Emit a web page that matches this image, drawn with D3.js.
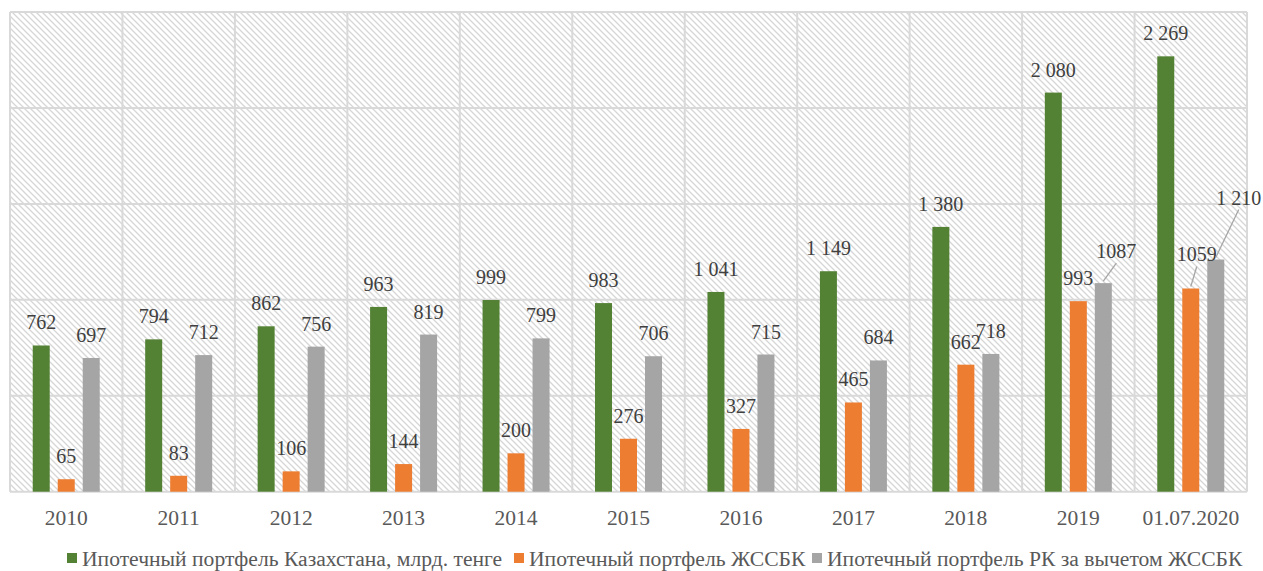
<!DOCTYPE html>
<html><head><meta charset="utf-8">
<script src="https://cdnjs.cloudflare.com/ajax/libs/d3/7.8.5/d3.min.js"></script>
<style>body{margin:0;background:#fff}svg{display:block}</style>
</head><body>
<script>
const categories = ["2010","2011","2012","2013","2014","2015","2016","2017","2018","2019","01.07.2020"];
const seriesNames = ["Ипотечный портфель Казахстана, млрд. тенге","Ипотечный портфель ЖССБК","Ипотечный портфель РК за вычетом ЖССБК"];
const kazakhstan = [762,794,862,963,999,983,1041,1149,1380,2080,2269];
const zhssbk = [65,83,106,144,200,276,327,465,662,993,1059];
const withoutZhssbk = [697,712,756,819,799,706,715,684,718,1087,1210];
const kazLabels = ["762","794","862","963","999","983","1 041","1 149","1 380","2 080","2 269"];
const zhLabels = ["65","83","106","144","200","276","327","465","662","993","1059"];
const woLabels = ["697","712","756","819","799","706","715","684","718","1087","1 210"];
const yTicks = [0,500,1000,1500,2000,2500];
const colors = ["#548235","#ed7d31","#a5a5a5"];

const W=1263,H=571;
const m={l:10,t:12,r:16,b:80};
const svg=d3.select("body").append("svg").attr("width",W).attr("height",H);
const defs=svg.append("defs");
const pat=defs.append("pattern").attr("id","hatch").attr("patternUnits","userSpaceOnUse").attr("width",6).attr("height",6);
pat.append("rect").attr("width",6).attr("height",6).attr("fill","#fff");
pat.append("path").attr("d","M-1,-1 L7,7 M-1,5 L1,7 M5,-1 L7,1").attr("stroke","#d6d6d6").attr("stroke-width",1.3);

const x=d3.scaleBand().domain(categories).range([m.l,W-m.r]).paddingInner(0).paddingOuter(0);
const y=d3.scaleLinear().domain([0,2500]).range([H-m.b+0.7,m.t]);
const bw=17, step=25;

svg.append("rect").attr("x",m.l).attr("y",m.t).attr("width",W-m.r-m.l).attr("height",y(0)-m.t).attr("fill","url(#hatch)");
const g=svg.append("g");
g.selectAll("line.h").data(yTicks).join("line").attr("x1",m.l).attr("x2",W-m.r).attr("y1",d=>y(d)).attr("y2",d=>y(d)).attr("stroke","#d9d9d9").attr("stroke-width",2);
g.selectAll("line.v").data(categories.concat(["end"])).join("line")
 .attr("x1",(d,i)=>m.l+i*x.bandwidth()).attr("x2",(d,i)=>m.l+i*x.bandwidth())
 .attr("y1",m.t).attr("y2",y(0)).attr("stroke","#d9d9d9").attr("stroke-width",2);

const series=[kazakhstan,zhssbk,withoutZhssbk];
const labels=[kazLabels,zhLabels,woLabels];
const font="Liberation Serif";
series.forEach((vals,s)=>{
  const off=(s-1)*step - bw/2;
  svg.append("g").selectAll("rect").data(vals).join("rect")
    .attr("x",(d,i)=>x(categories[i])+x.bandwidth()/2+off)
    .attr("y",d=>y(d)).attr("width",bw).attr("height",d=>y(0)-y(d)).attr("fill",colors[s]);
});
// labels
const special={"1-10":{dx:6,dy:-11},"2-9":{dx:13,dy:-9},"2-10":{dx:23,dy:-39}};
series.forEach((vals,s)=>{
  vals.forEach((v,i)=>{
    const cx=x(categories[i])+x.bandwidth()/2+(s-1)*step;
    const sp=special[s+"-"+i];
    let tx=cx, ty=y(v)-16;
    if(sp){tx=cx+sp.dx; ty=y(v)-16+sp.dy;
      svg.append("line").attr("x1",cx).attr("y1",y(v)-2).attr("x2",tx).attr("y2",ty+5)
       .attr("stroke","#a6a6a6").attr("stroke-width",1.3);
    }
    svg.append("text").attr("x",tx).attr("y",ty).attr("text-anchor","middle")
      .attr("font-family",font).attr("font-size",20).attr("fill","#404040").text(labels[s][i]);
  });
});
// x axis labels
svg.append("g").selectAll("text").data(categories).join("text")
  .attr("x",d=>x(d)+x.bandwidth()/2).attr("y",525).attr("text-anchor","middle")
  .attr("font-family",font).attr("font-size",21.5).attr("fill","#595959").text(d=>d);
// legend
const lg=svg.append("g");
const lx=[67,514,812];
seriesNames.forEach((n,i)=>{
  lg.append("rect").attr("x",lx[i]).attr("y",553).attr("width",10).attr("height",10).attr("fill",colors[i]);
  lg.append("text").attr("x",lx[i]+15).attr("y",566).attr("font-family",font).attr("font-size",21.6).attr("fill","#595959").text(n);
});
</script>
</body></html>
